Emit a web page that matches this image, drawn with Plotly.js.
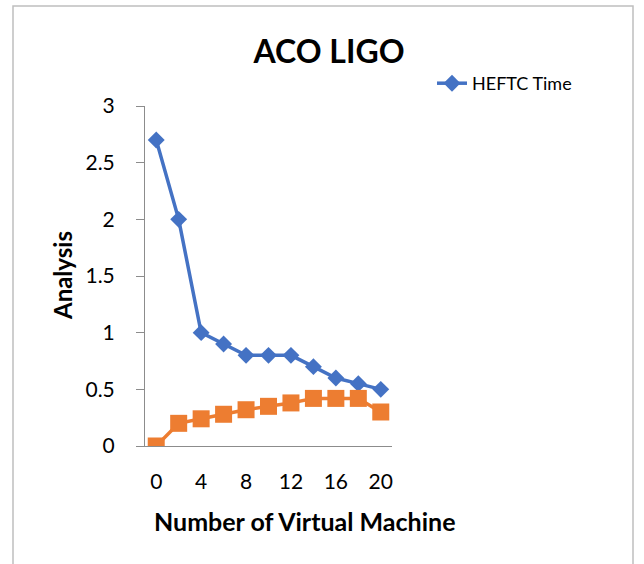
<!DOCTYPE html>
<html>
<head>
<meta charset="utf-8">
<script src="https://cdn.plot.ly/plotly-3.0.1.min.js"></script>
<style>html,body{margin:0;padding:0;background:#fff;}#chart{width:644px;height:564px;}</style>
</head>
<body>
<div id="chart"></div>
<script>
const vms = [0, 2, 4, 6, 8, 10, 12, 14, 16, 18, 20];
const heftcTime = [2.7, 2.0, 1.0, 0.9, 0.8, 0.8, 0.8, 0.7, 0.6, 0.55, 0.5];
const secondSeries = [0, 0.2, 0.24, 0.28, 0.32, 0.35, 0.38, 0.42, 0.42, 0.42, 0.3];
const xTicks = [0, 4, 8, 12, 16, 20];
const yTicks = [0, 0.5, 1, 1.5, 2, 2.5, 3];
const yTickText = ['0', '0.5', '1', '1.5', '2', '2.5', '3'];

const FONT = 'Lato, "Open Sans", sans-serif';
const L = 145, R = 392, T = 106, B = 446;
const pw = R - L, ph = B - T;
const px = x => (x - L) / pw;
const py = y => (B - y) / ph;

const traces = [
  {
    x: vms, y: heftcTime, name: 'HEFTC Time', type: 'scatter', mode: 'lines+markers',
    line: {color: '#4472C4', width: 3.5},
    marker: {symbol: 'diamond', size: 13, color: '#4472C4'},
    showlegend: true
  },
  {
    x: vms, y: secondSeries, name: 'Series 2', type: 'scatter', mode: 'lines+markers',
    line: {color: '#ED7D31', width: 3.5},
    marker: {symbol: 'square', size: 17, color: '#ED7D31'},
    showlegend: false
  }
];

const layout = {
  width: 644, height: 564,
  margin: {l: L, r: 644 - R, t: T, b: 564 - B, pad: 0},
  paper_bgcolor: '#ffffff', plot_bgcolor: '#ffffff',
  font: {family: FONT, color: '#000', size: 21},
  title: {
    text: '<b>ACO LIGO</b>', font: {family: FONT, size: 32, color: '#000'},
    xref: 'paper', x: px(329), xanchor: 'center',
    yref: 'container', y: 1 - 52 / 564, yanchor: 'middle'
  },
  xaxis: {
    range: [-1, 21], tickmode: 'array', tickvals: xTicks,
    showgrid: false, zeroline: false, showline: true, linecolor: '#8c8c8c', linewidth: 1,
    ticks: '', ticklabelstandoff: 17, tickfont: {family: FONT, size: 21, color: '#000'},
    fixedrange: true
  },
  yaxis: {
    range: [0, 3], tickmode: 'array', tickvals: yTicks, ticktext: yTickText,
    showgrid: false, zeroline: false, showline: true, linecolor: '#8c8c8c', linewidth: 1,
    ticks: 'outside', ticklen: 8, tickcolor: '#8c8c8c', ticklabelstandoff: 17,
    tickfont: {family: FONT, size: 21, color: '#000'},
    fixedrange: true
  },
  showlegend: true,
  legend: {
    x: px(432), y: py(65), xanchor: 'left', yanchor: 'top',
    font: {family: FONT, size: 18, color: '#000'}, bgcolor: 'rgba(0,0,0,0)'
  },
  annotations: [
    {text: '<b>Number of Virtual Machine</b>', xref: 'paper', yref: 'paper',
     x: px(305), y: py(521), xanchor: 'center', yanchor: 'middle', showarrow: false,
     font: {family: FONT, size: 25, color: '#000'}},
    {text: '<b>Analysis</b>', xref: 'paper', yref: 'paper', textangle: -90,
     x: px(62), y: py(276), xanchor: 'center', yanchor: 'middle', showarrow: false,
     font: {family: FONT, size: 24, color: '#000'}}
  ],
  shapes: [
    {type: 'rect', xref: 'paper', yref: 'paper',
     x0: px(13), x1: px(633), y0: py(620), y1: py(6),
     line: {color: '#bfbfbf', width: 1.5}, fillcolor: 'rgba(0,0,0,0)', layer: 'below'}
  ]
};

Plotly.newPlot('chart', traces, layout, {displayModeBar: false, staticPlot: true});
</script>
</body>
</html>
